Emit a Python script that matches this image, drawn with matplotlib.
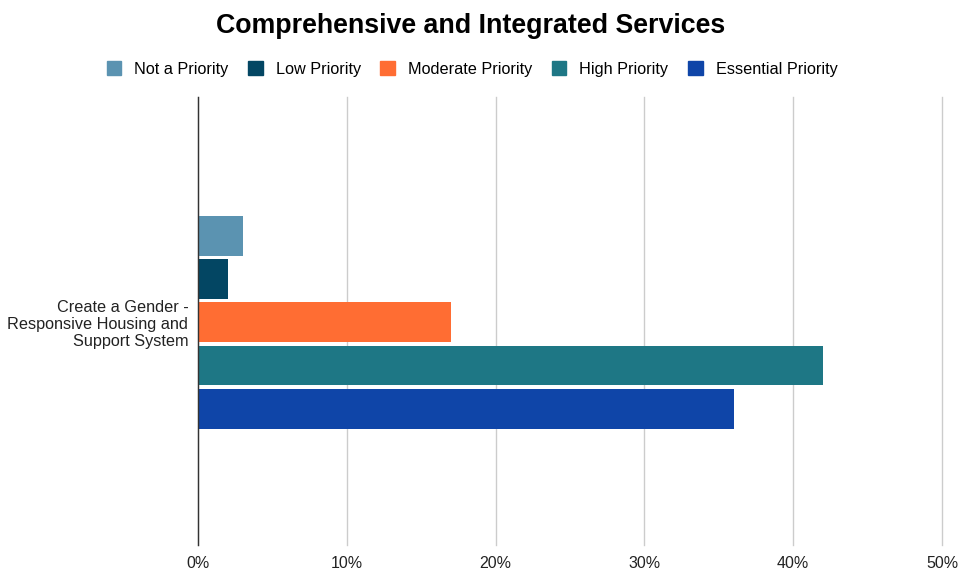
import matplotlib
matplotlib.use("Agg")
import matplotlib.pyplot as plt
from matplotlib.patches import Patch
from matplotlib.ticker import FuncFormatter

plt.rcParams['font.family'] = ['Liberation Sans', 'DejaVu Sans']

category = "Create a Gender -\nResponsive Housing and\nSupport System"
series = ["Not a Priority", "Low Priority", "Moderate Priority", "High Priority", "Essential Priority"]
values = [3, 2, 17, 42, 36]
colors = ["#5b93b1", "#034663", "#ff6d33", "#1e7785", "#0f45a8"]
xticks = [0, 10, 20, 30, 40, 50]

fig = plt.figure(figsize=(9.72, 5.71), dpi=100)
ax = fig.add_axes([198/972, 1-545/571, (942-198)/972, (545-97)/571])

pitch = 0.0964
height = 0.089
for i, (s, v, c) in enumerate(zip(series, values, colors)):
    y = (i - 2) * pitch
    ax.barh(y, v, height=height, color=c, label=s, zorder=3)

ax.set_ylim(0.497, -0.503)
ax.set_xlim(0, 50)
ax.set_xticks(xticks)
ax.xaxis.set_major_formatter(FuncFormatter(lambda v, p: f"{int(v)}%"))
ax.set_yticks([0])
ax.set_yticklabels([category], fontsize=11.7, ha='right', linespacing=1.15)
ax.tick_params(axis='both', length=0, colors='#222222')
ax.tick_params(axis='x', pad=8, labelsize=11.5)
ax.tick_params(axis='y', pad=7)
ax.grid(axis='x', color='#cccccc', linewidth=1, zorder=0)
for gl in ax.get_xgridlines():
    gl.set_clip_on(False)
for sp in ['top', 'right', 'bottom']:
    ax.spines[sp].set_visible(False)
ax.spines['left'].set_color('#333333')
ax.spines['left'].set_linewidth(1)
ax.spines['left'].set_zorder(4)

fig.text(471/972, 1-26/571, "Comprehensive and Integrated Services", ha='center', va='center',
         fontsize=19.3, fontweight='bold', color='#000000')

handles = [Patch(facecolor=c, edgecolor=c, label=s) for s, c in zip(series, colors)]
fig.legend(handles=handles, loc='center', bbox_to_anchor=(472/972, 1-69/571), ncol=5, frameon=False,
           fontsize=11.7, handlelength=0.9, handleheight=0.9, handletextpad=0.8, columnspacing=1.2)

fig.savefig("out.png", dpi=100, facecolor='white')
